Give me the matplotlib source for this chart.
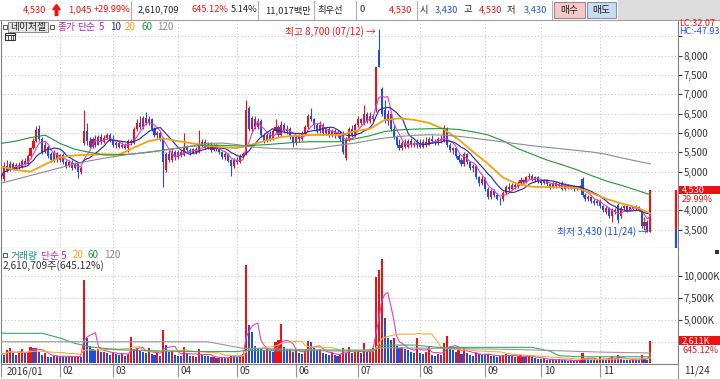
import numpy as np
import pandas as pd
import matplotlib
matplotlib.use("Agg")
import matplotlib.pyplot as plt
from matplotlib.patches import Rectangle, FancyArrow

plt.rcParams["font.family"] = ["Noto Sans CJK KR", "DejaVu Sans"]

# trading days shown on the chart (KRX calendar 2016)
holidays = ["2016-02-08", "2016-02-09", "2016-02-10", "2016-03-01", "2016-04-13",
            "2016-05-05", "2016-05-06", "2016-06-06", "2016-08-15", "2016-09-14",
            "2016-09-15", "2016-09-16", "2016-10-03"]
dates = pd.bdate_range("2016-01-04", "2016-11-24", freq="C", holidays=holidays)

# daily candles (won)
opens = [
    4900, 4800, 5150, 5050, 5200, 5100, 5180, 5120, 5280, 5200, 5400, 5600, 5800, 6100, 5850, 5500, 5650, 5450, 5300, 5480,
    5300, 5420, 5250, 5150, 5250, 5100, 5200, 5000, 5750, 6050, 5800, 5650, 5850, 5700, 5900, 5780, 5880, 5950,
    5850, 5700, 5750, 5650, 5700, 5600, 5800, 5750, 6100, 6250, 6150, 6400, 6250, 6350, 6100, 5950, 6000, 5850, 5050, 5450, 5300, 5500,
    5380, 5500, 5420, 5650, 5550, 5480, 5580, 5500, 5700, 5780, 5620, 5700, 5560, 5680, 5580, 5500, 5380, 5450, 5300, 5150,
    5300, 5250, 5400, 5450, 6650, 6100, 6350, 6150, 6300, 5950, 5800, 5950, 5850, 6050, 6150, 5950, 6200, 6050, 6100, 5900,
    5750, 5900, 5850, 6000, 6150, 6450, 6350, 6200, 6050, 6200, 6000, 6100, 5950, 6050, 5950, 6000, 5950, 5350, 5850, 6100, 5950,
    6200, 6350, 6250, 6500, 6300, 6450, 6600, 8150, 7150, 6600, 6300, 6500, 6100, 5900, 5700, 5600, 5750, 5650, 5800, 5700, 5750,
    5750, 5650, 5780, 5700, 5850, 5800, 5750, 5850, 5800, 6100, 5700, 5550, 5600, 5400, 5300, 5200, 5450, 5250, 5100, 5150, 4850, 4700,
    4800, 4550, 4350, 4500, 4400, 4300, 4280, 4450, 4600, 4550, 4650, 4600, 4700, 4780, 4720, 4850, 4900, 4780, 4850,
    4750, 4700, 4780, 4680, 4600, 4700, 4620, 4680, 4550, 4650, 4580, 4620, 4560, 4600, 4800, 4400, 4300, 4350, 4250, 4200,
    4250, 4100, 3950, 4050, 3850, 4000, 4150, 3850, 4050, 4100, 4000, 4080, 4050, 4080, 4000, 3600, 3700, 3430,
]
highs = [
    4950, 5250, 5300, 5280, 5250, 5230, 5250, 5320, 5350, 5450, 5650, 5880, 6170, 6200, 5900, 5780, 5700, 5500, 5560, 5520,
    5450, 5480, 5300, 5300, 5300, 5250, 5220, 5150, 6600, 6250, 5900, 5900, 5950, 5950, 5980, 5950, 6000, 6000,
    5950, 5800, 5800, 5760, 5740, 5850, 5850, 6150, 6350, 6450, 6450, 6550, 6450, 6400, 6150, 6050, 6050, 5900, 5500, 5550, 5600, 5550,
    5560, 5560, 6000, 5700, 5600, 5620, 5640, 6080, 5850, 5850, 5760, 5760, 5720, 5720, 5620, 5540, 5500, 5480, 5320, 5350,
    5380, 5450, 5500, 6850, 6700, 6450, 6450, 6400, 6350, 6000, 6000, 6050, 6100, 6350, 6200, 6300, 6250, 6200, 6150, 5950,
    5950, 5980, 6050, 6200, 6500, 6650, 6400, 6250, 6300, 6250, 6150, 6150, 6100, 6100, 6080, 6050, 6050, 5900, 6150, 6200, 6250,
    6450, 6400, 6720, 6550, 6550, 6500, 7720, 8700, 7200, 6850, 6600, 6550, 6200, 5950, 5850, 5800, 5850, 5850, 5880, 5800, 5850,
    5850, 5850, 5900, 5900, 5950, 5850, 5900, 5950, 6200, 6150, 5750, 5650, 5620, 5450, 5350, 5500, 5480, 5280, 5200, 5180, 4900, 4900,
    4850, 4600, 4550, 4550, 4450, 4350, 4500, 4650, 4700, 4700, 4720, 4750, 4850, 4820, 4900, 4960, 4950, 4900, 4880,
    4800, 4820, 4800, 4700, 4750, 4750, 4720, 4750, 4700, 4680, 4660, 4650, 4640, 4650, 4860, 4450, 4400, 4380, 4300, 4300,
    4280, 4150, 4100, 4080, 4050, 4050, 4190, 4100, 4140, 4130, 4120, 4120, 4130, 4110, 4010, 3830, 3750, 4530,
]
lows = [
    4800, 4760, 5000, 5020, 5050, 5070, 5080, 5100, 5160, 5180, 5350, 5580, 5780, 5800, 5450, 5480, 5350, 5250, 5260, 5260,
    5250, 5200, 5100, 5120, 5050, 5060, 4840, 4950, 5700, 5700, 5600, 5620, 5650, 5680, 5720, 5750, 5850, 5760,
    5650, 5620, 5600, 5620, 5580, 5500, 5700, 5720, 6050, 6100, 6100, 6200, 6200, 6050, 5900, 5880, 5800, 4600, 5000, 5250, 5250, 5300,
    5340, 5380, 5400, 5500, 5420, 5450, 5460, 5480, 5650, 5580, 5580, 5520, 5530, 5540, 5450, 5340, 5300, 5240, 4900, 5100,
    5200, 5220, 5350, 5420, 6050, 6000, 6100, 6100, 5900, 5750, 5760, 5800, 5820, 6000, 5900, 5920, 6000, 5980, 5850, 5650,
    5700, 5780, 5800, 5950, 6100, 6300, 6100, 6000, 6000, 5950, 5950, 5900, 5900, 5880, 5900, 5800, 5450, 5300, 5800, 5900, 5900,
    6150, 6200, 6200, 6250, 6250, 6300, 6550, 7700, 6450, 6250, 6200, 6050, 5850, 5650, 5560, 5560, 5600, 5620, 5650, 5650, 5620,
    5600, 5620, 5650, 5680, 5750, 5700, 5700, 5750, 5780, 5650, 5500, 5450, 5350, 5250, 5150, 5150, 5200, 5050, 5000, 4800, 4620, 4650,
    4500, 4280, 4300, 4350, 4260, 4150, 4250, 4420, 4500, 4520, 4550, 4580, 4650, 4680, 4700, 4800, 4750, 4720, 4700,
    4650, 4680, 4620, 4550, 4580, 4580, 4600, 4520, 4520, 4540, 4550, 4500, 4530, 4540, 4350, 4250, 4250, 4200, 4150, 4150,
    4050, 3950, 3900, 3800, 3700, 3900, 3670, 3800, 4000, 3960, 3970, 4000, 4000, 3980, 3540, 3500, 3450, 3430,
]
closes = [
    4850, 5150, 5050, 5200, 5100, 5180, 5120, 5280, 5200, 5400, 5600, 5800, 6080, 5850, 5500, 5700, 5400, 5300, 5480, 5300,
    5420, 5250, 5150, 5250, 5100, 5200, 5000, 5100, 6050, 5800, 5650, 5850, 5700, 5900, 5780, 5880, 5950, 5800,
    5700, 5750, 5650, 5700, 5620, 5800, 5750, 6100, 6250, 6150, 6400, 6250, 6350, 6100, 5950, 6000, 5850, 5250, 5450, 5300, 5500, 5380,
    5500, 5420, 5650, 5550, 5480, 5580, 5500, 5700, 5780, 5620, 5700, 5560, 5680, 5580, 5500, 5380, 5450, 5280, 5150, 5300,
    5250, 5400, 5450, 6600, 6100, 6400, 6150, 6300, 5950, 5800, 5950, 5850, 6050, 6150, 5950, 6200, 6050, 6100, 5900, 5750,
    5900, 5850, 6000, 6150, 6450, 6350, 6200, 6050, 6200, 6000, 6100, 5950, 6050, 5950, 6000, 5850, 5500, 5850, 6100, 5950, 6200,
    6350, 6250, 6500, 6300, 6450, 6400, 7700, 7720, 6500, 6300, 6500, 6100, 5900, 5700, 5600, 5750, 5650, 5800, 5700, 5750, 5680,
    5650, 5780, 5700, 5850, 5800, 5750, 5850, 5800, 6100, 5700, 5550, 5600, 5400, 5300, 5200, 5450, 5250, 5100, 5150, 4850, 4700, 4800,
    4550, 4350, 4500, 4400, 4300, 4280, 4450, 4600, 4550, 4650, 4600, 4700, 4780, 4720, 4850, 4900, 4780, 4850, 4750,
    4700, 4780, 4680, 4600, 4700, 4620, 4680, 4550, 4650, 4580, 4620, 4560, 4600, 4580, 4400, 4300, 4350, 4250, 4200, 4250,
    4100, 4000, 4050, 3850, 4000, 3950, 3750, 4050, 4100, 4000, 4080, 4050, 4080, 4000, 3600, 3700, 3485, 4530,
]
# volume, thousand shares
volumes = [
    1100, 1000, 1540, 1730, 1160, 970, 1160, 1700, 1200, 1350, 1900, 1730, 1800, 1350, 970, 1160, 770, 700, 900, 800,
    900, 800, 700, 850, 750, 800, 900, 700, 9510, 2900, 2000, 1600, 1500, 1700, 1300, 1350, 1200, 1000,
    1350, 1100, 1000, 1200, 900, 1100, 3050, 1600, 1800, 1400, 1300, 1200, 1730, 1100, 1000, 1200, 900, 3815, 2100, 1300, 1400, 1000,
    900, 800, 1900, 1100, 800, 900, 700, 1650, 1000, 900, 800, 700, 750, 600, 650, 700, 600, 650, 1000, 800,
    700, 900, 1100, 11220, 4400, 3600, 2000, 1800, 1700, 1500, 1800, 1400, 1300, 2480, 2680, 4500, 1900, 1600, 1700, 1300,
    1500, 1200, 1100, 1400, 2600, 2480, 1800, 1500, 1600, 1200, 1100, 1000, 1300, 1000, 900, 1100, 1800, 1200, 1840, 1200, 1300,
    1400, 1200, 2300, 1300, 1500, 1800, 9820, 10650, 11870, 5180, 2900, 2700, 2900, 2000, 1800, 1910, 1600, 1500, 1300, 1200, 2900,
    1200, 1100, 1300, 1900, 1000, 900, 1100, 1000, 2300, 3130, 1900, 1500, 1300, 1600, 1100, 1900, 1200, 1000, 900, 1200, 1100, 1000,
    1000, 1100, 900, 800, 700, 900, 1000, 1100, 800, 900, 700, 800, 1000, 700, 800, 900, 700, 600, 500,
    500, 600, 400, 350, 450, 400, 500, 400, 350, 300, 350, 300, 400, 350, 1150, 600, 500, 400, 350, 450,
    780, 500, 450, 600, 800, 500, 970, 500, 450, 400, 350, 450, 400, 350, 970, 600, 405, 2611,
]

ma_idx = list(range(0, 221, 5))
ma20 = [5130, 5043, 5000, 5190, 5370, 5420, 5440, 5450, 5440, 5620, 5790, 5860, 5790, 5730, 5670,
        5630, 5610, 5700, 5810, 5900, 5930, 5950, 5950, 5950, 6050, 6110, 6340, 6380, 6340, 6260,
        6100, 5830, 5510, 5200, 4850, 4680, 4610, 4600, 4595, 4575, 4450, 4300, 4180, 4085, 3920]
ma60 = [5730, 5790, 5880, 5945, 5730, 5580, 5500, 5430, 5440, 5460, 5500, 5560, 5610, 5660, 5690,
        5680, 5665, 5680, 5700, 5730, 5760, 5775, 5775, 5775, 5850, 5930, 6040, 6080, 6100, 6110,
        6115, 6090, 6030, 5950, 5800, 5600, 5450, 5300, 5180, 5050, 4900, 4760, 4650, 4530, 4400]
ma120 = [4700, 4800, 4900, 5000, 5100, 5200, 5280, 5350, 5410, 5460, 5510, 5550, 5610, 5670, 5730,
         5740, 5700, 5640, 5610, 5590, 5590, 5580, 5640, 5690, 5740, 5810, 5870, 5910, 5940, 5955,
         5945, 5915, 5870, 5820, 5770, 5720, 5670, 5630, 5590, 5550, 5510, 5450, 5360, 5280, 5200]
vma60_idx = [0, 14, 20, 25, 30, 40, 60, 80, 83, 90, 110, 126, 129, 140, 148, 180, 186, 189, 195, 220]
vma60 = [3440, 3440, 2900, 2300, 1900, 1560, 1380, 1350, 1500, 1450, 1450, 1400, 2100, 2100, 1840,
         1840, 1400, 900, 770, 770]
vma120_idx = [0, 70, 76, 82, 110, 126, 129, 148, 175, 203, 220]
vma120 = [2480, 2480, 2100, 1730, 1540, 1540, 1800, 1730, 1600, 1300, 1200]

month_labels = ["2016/01", "02", "03", "04", "05", "06", "07", "08", "09", "10", "11"]
price_ticks = [3500, 4000, 4500, 5000, 5500, 6000, 6500, 7000, 7500, 8000, 8500]
vol_ticks = [2500, 5000, 7500, 10000]

assert len(dates) == len(opens) == len(highs) == len(lows) == len(closes) == len(volumes)

n = len(closes)
x = np.arange(n)
o, h, l, c = (np.array(a, dtype=float) for a in (opens, highs, lows, closes))
v = np.array(volumes, dtype=float)

RED, BLUE = "#ee1111", "#1d4fdc"
DARK = "#222222"
candle_col = np.where(c >= o, RED, BLUE)
vol_col = [BLUE] + [RED if v[i] > v[i - 1] else BLUE for i in range(1, n)]

ma5 = pd.Series(c).rolling(5, min_periods=1).mean()
ma10 = pd.Series(c).rolling(10, min_periods=1).mean()
vma5 = pd.Series(v).rolling(5, min_periods=1).mean()
vma20 = pd.Series(v).rolling(20, min_periods=1).mean()

month_pos = [i for i in range(n) if i == 0 or dates[i].month != dates[i - 1].month]

W, H = 720, 379
fig = plt.figure(figsize=(W / 100, H / 100), dpi=100)


def box(l_, t_, r_, b_):
    return [l_ / W, 1 - b_ / H, (r_ - l_) / W, (b_ - t_) / H]


ax = fig.add_axes(box(1, 21, 678, 248))
vax = fig.add_axes(box(1, 248, 678, 364))
xlim = (0.867, 229.35)
grid_kw = dict(color="#c4c4c4", linestyle=(0, (1, 2)), linewidth=0.8)

# ---- price panel ----
ax.vlines(x, l, h, colors=candle_col, linewidth=0.8, zorder=3)
ax.bar(x, np.maximum(np.abs(c - o), 12), bottom=np.minimum(o, c), width=0.7,
       color=candle_col, linewidth=0, zorder=3)
ax.plot(x, ma5, color="#e040cc", lw=0.8, zorder=4)
ax.plot(x, ma10, color="#1c2a9c", lw=0.8, zorder=4)
ax.plot(ma_idx, ma20, color="#f2a20c", lw=1.3, zorder=4)
ax.plot(ma_idx, ma60, color="#1e9638", lw=0.8, zorder=4)
ax.plot(ma_idx, ma120, color="#8c8c8c", lw=0.8, zorder=4)

ax.set_xlim(*xlim)
ax.set_ylim(3025, 8898)
ax.set_xticks(month_pos)
ax.set_yticks(price_ticks)
# 4,500 sits under the current-price box and 8,500 under the HC readout
ax.set_yticklabels(["" if t in (4500, 8500) else f"{t:,}" for t in price_ticks])
ax.yaxis.tick_right()
ax.tick_params(axis="x", length=0, labelbottom=False)
ax.tick_params(axis="y", direction="out", length=3, width=0.8, pad=1, labelsize=7,
               colors="#333333")
ax.grid(True, **grid_kw)
ax.set_axisbelow(True)
ax.spines["top"].set_visible(False)
for s in ("left", "right", "bottom"):
    ax.spines[s].set_color("#808080")
    ax.spines[s].set_linewidth(0.8)

imax = int(np.argmax(h))
imin = int(np.argmin(l))
ax.annotate(f"최고 {int(h[imax]):,} ({dates[imax]:%m/%d}) →", xy=(imax, h[imax]),
            xytext=(-2, -3), textcoords="offset points", ha="right", va="center",
            color=RED, fontsize=7, zorder=6)
ax.annotate(f"최저 {int(l[imin]):,} ({dates[imin]:%m/%d}) →", xy=(imin, l[imin]),
            xytext=(-2, 0), textcoords="offset points", ha="right", va="center",
            color=BLUE, fontsize=7, zorder=6)

# current price marker on the right scale
yt = ax.get_yaxis_transform()
ax.plot([0.9975, 0.9975], [c[-2], c[-1]], transform=yt, color=RED, lw=1.6,
        solid_capstyle="butt", zorder=5, clip_on=False)
ax.plot([0.9975, 0.9975], [3025, c[-2]], transform=yt, color=BLUE, lw=1.6,
        solid_capstyle="butt", zorder=5, clip_on=False)
ax.add_patch(Rectangle((1.002, c[-1] - 110), 0.07, 220, transform=yt, facecolor=RED,
                       edgecolor="none", clip_on=False, zorder=6))
ax.text(1.006, c[-1], f"{int(c[-1]):,}", transform=yt, color="white", va="center",
        ha="left", fontsize=6.5, zorder=7, clip_on=False)
ax.annotate("29.99%", xy=(1.006, c[-1]), xycoords=yt, xytext=(0, -7),
            textcoords="offset points", color=RED, va="center", ha="left", fontsize=6.5,
            zorder=5, annotation_clip=False)

# ---- volume panel ----
vax.bar(x, v, width=0.7, color=vol_col, linewidth=0, zorder=3)
vax.plot(x, vma5, color="#e040cc", lw=0.8, zorder=4)
vax.plot(x, vma20, color="#f2b030", lw=0.8, zorder=4)
vax.plot(vma60_idx, vma60, color="#3aaa60", lw=0.8, zorder=4)
vax.plot(vma120_idx, vma120, color="#999999", lw=0.8, zorder=4)

vax.set_xlim(*xlim)
vax.set_ylim(-57, 13155)
vax.set_xticks(month_pos)
vax.set_xticklabels([])
vax.set_yticks(vol_ticks)
# 2,500K sits under the current-volume box
vax.set_yticklabels(["" if t == 2500 else f"{t:,}K" for t in vol_ticks])
vax.yaxis.tick_right()
vax.tick_params(axis="x", direction="out", length=9, width=0.8, colors="#909090")
vax.tick_params(axis="y", direction="out", length=3, width=0.8, pad=1, labelsize=7,
                colors="#333333")
vax.grid(True, **grid_kw)
vax.set_axisbelow(True)
vax.spines["top"].set_visible(False)
for s in ("left", "right", "bottom"):
    vax.spines[s].set_color("#808080")
    vax.spines[s].set_linewidth(0.8)

xt = vax.get_xaxis_transform()
for pos, lab in zip(month_pos, month_labels):
    vax.annotate(lab, xy=(max(pos, xlim[0]), 0), xycoords=xt, xytext=(2, -1.5),
                 textcoords="offset points", ha="left", va="top", fontsize=7,
                 color="#333333", annotation_clip=False)

vyt = vax.get_yaxis_transform()
vax.add_patch(Rectangle((1.002, v[-1] - 480), 0.07, 960, transform=vyt, facecolor=RED,
                        edgecolor="none", clip_on=False, zorder=6))
vax.text(1.006, v[-1], f"{v[-1]:,.0f}K", transform=vyt, color="white", va="center",
         ha="left", fontsize=6.5, zorder=7, clip_on=False)
vax.annotate("645.12%", xy=(1.006, v[-1]), xycoords=vyt, xytext=(0, -7),
             textcoords="offset points", color=RED, va="center", ha="left", fontsize=6.5,
             zorder=5, annotation_clip=False)

# ---- overlay: toolbar and legends (pixel coords, y down) ----
ov = fig.add_axes([0, 0, 1, 1], zorder=10)
ov.set_xlim(0, W)
ov.set_ylim(H, 0)
ov.axis("off")
ov.patch.set_visible(False)

ov.add_patch(Rectangle((0, 0), W, 20, facecolor="white", edgecolor="none"))
ov.add_patch(Rectangle((618, 0), W - 618, 20, facecolor="#dcdcdc", edgecolor="none"))
ov.plot([0, W], [20, 20], color="#a0a0a0", lw=0.8)
for sx in (131, 258, 314, 356, 417, 552):
    ov.plot([sx, sx], [1, 19], color="#b0b0b0", lw=0.8)

top_items = [
    (23, "4,530", RED), (68, "1,045", RED), (94, "+29.99%", RED),
    (138, "2,610,709", DARK), (192, "645.12%", RED), (231, "5.14%", DARK),
    (265, "11,017백만", DARK), (317, "최우선", DARK), (360, "0", DARK),
    (389, "4,530", RED), (420, "시", DARK), (435, "3,430", BLUE),
    (463, "고", DARK), (479, "4,530", RED), (507, "저", DARK), (524, "3,430", BLUE),
]
for tx, txt, col in top_items:
    ov.text(tx, 10, txt, color=col, fontsize=6.7, ha="left", va="center")
ov.add_patch(FancyArrow(56.5, 15.5, 0, -11, width=2.6, head_width=7.5, head_length=5,
                        color=RED, length_includes_head=True))
ov.add_patch(Rectangle((554, 2), 31, 16, facecolor="#f6c8c8", edgecolor="#9a8a8a", lw=0.8))
ov.text(569.5, 10, "매수", fontsize=7, ha="center", va="center", color=DARK)
ov.add_patch(Rectangle((587, 2), 29, 16, facecolor="#c8dcf2", edgecolor="#8a94a0", lw=0.8))
ov.text(601.5, 10, "매도", fontsize=7, ha="center", va="center", color=DARK)

# price legend row
ov.add_patch(Rectangle((2.5, 24.5), 4, 4, facecolor="white", edgecolor="#555555", lw=0.7))
ov.add_patch(Rectangle((8, 22), 40, 10, facecolor="#e6e6e6", edgecolor="#8a8a8a", lw=0.7))
ov.text(28, 27, "네이처셀", fontsize=7, ha="center", va="center", color=DARK)
ov.add_patch(Rectangle((49.5, 24.5), 4, 4, facecolor="white", edgecolor="#555555", lw=0.7))
legend_items = [(58, "종가", "#d81c8c"), (77, "단순", "#b41ab4"), (99, "5", "#c020c0"),
                (110, "10", "#1c2a9c"), (125, "20", "#f2a20c"), (141, "60", "#1e9638"),
                (157, "120", "#888888")]
for tx, txt, col in legend_items:
    ov.text(tx, 27, txt, fontsize=7, ha="left", va="center", color=col)
# calendar icon
ov.add_patch(Rectangle((5, 33), 10, 7, facecolor="white", edgecolor="#333333", lw=0.8))
ov.plot([5, 15], [35, 35], color="#333333", lw=0.8)
for cx in (8, 10.5, 13):
    ov.plot([cx, cx], [35.5, 39.5], color="#333333", lw=0.6)

ov.text(679, 23, "LC:32.07", fontsize=6.5, ha="left", va="center", color=RED)
ov.text(679, 32, "HC:-47.93", fontsize=6.5, ha="left", va="center", color=BLUE)

# volume legend
ov.add_patch(Rectangle((2.5, 253), 4, 4, facecolor="white", edgecolor="#555555", lw=0.7))
vol_legend = [(11, "거래량", "#0f8c8c"), (41, "단순 5", "#c020c0"), (73, "20", "#f2a20c"),
              (88, "60", "#1e9638"), (104, "120", "#888888")]
for tx, txt, col in vol_legend:
    ov.text(tx, 255.5, txt, fontsize=7, ha="left", va="center", color=col)
ov.text(3, 265.5, "2,610,709주(645.12%)", fontsize=7.3, ha="left", va="center", color="#333333")
ov.add_patch(Rectangle((715, 250), 4, 4, facecolor="#333333", edgecolor="none"))

ov.plot([678, 678], [364, 379], color="#909090", lw=0.8)
ov.text(684, 370.5, "11/24", fontsize=7, ha="left", va="center", color="#333333")

fig.savefig("out.png", dpi=100)
